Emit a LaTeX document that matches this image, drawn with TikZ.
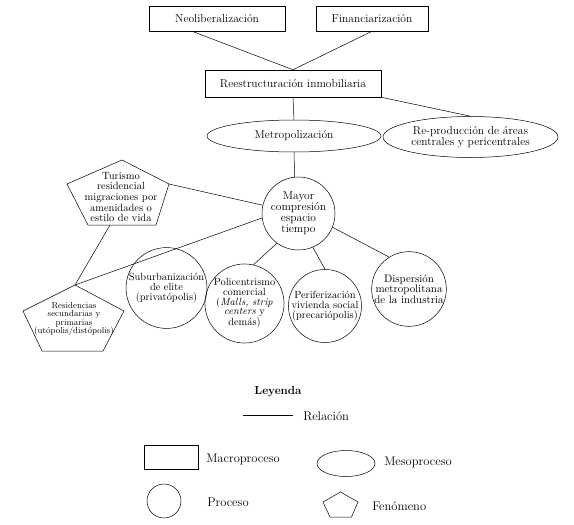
\documentclass[tikz,border=0pt]{standalone}
\usepackage{fontspec}
\usetikzlibrary{shapes.geometric}
\begin{document}
\begin{tikzpicture}[x=1pt,y=-1pt,line width=0.5pt,
  box/.style={draw,rectangle,inner sep=0pt,font=\fontsize{11.5}{12}\selectfont},
  ell/.style={draw,ellipse,inner sep=0pt,align=center,font=\fontsize{11.5}{9.5}\selectfont},
  circ/.style={draw,circle,inner sep=0pt,minimum size=#1,align=center},
  ctext/.style={font=\fontsize{10.4}{10}\selectfont},
  ptext/.style={align=center},
  legtext/.style={anchor=west,inner sep=0pt,font=\fontsize{12.5}{13}\selectfont},
  rel/.style={draw,line width=0.5pt}]
\useasboundingbox (0,0) rectangle (574,525);

% Macroprocesos
\node[box,minimum width=136pt,minimum height=25pt] (neo) at (217,18.5) {Neoliberalización};
\node[box,minimum width=112pt,minimum height=25pt] (fin) at (372,18.5) {Financiarización};
\node[box,minimum width=176pt,minimum height=27pt] (rees) at (293,83.5) {Reestructuración inmobiliaria};

% Mesoprocesos
\node[ell,minimum width=174pt,minimum height=32pt] (metro) at (294,136) {Metropolización};
\node[ell,minimum width=175pt,minimum height=41pt] (repro) at (470.5,137) {Re-producción de áreas\\centrales y pericentrales};

% Procesos
\node[circ=73pt,font=\fontsize{11.5}{11}\selectfont] (mayor) at (298.5,213.5) {Mayor\\compresión\\espacio\\tiempo};
\node[circ=71pt,ctext] (sub) at (166.5,288) {Suburbanización\\de elite\\(privatópolis)};
\node[circ=75pt,ctext,font=\fontsize{10.4}{9.7}\selectfont] (poli) at (244.5,303.5) {Policentrismo\\comercial\\(\textit{Malls, strip}\\\textit{centers} y\\demás)};
\node[circ=72pt,ctext] (peri) at (325,306) {Periferización\\vivienda social\\(precariópolis)};
\node[circ=74pt,ctext,font=\fontsize{10.9}{10.3}\selectfont] (disp) at (409,289) {Dispersión\\metropolitana\\de la industria};

% Fenomeno: Turismo
\coordinate (t1) at (122,160);
\coordinate (t2) at (169,184);
\coordinate (t3) at (156,225);
\coordinate (t4) at (88,225);
\coordinate (t5) at (67,184);
\coordinate (tb) at (110,225);
\draw (t1) -- (t2) -- (t3) -- (t4) -- (t5) -- cycle;
\node[ptext,font=\fontsize{10.5}{10.7}\selectfont] (tur) at (121,197) {Turismo\\residencial\\migraciones por\\amenidades o\\estilo de vida};

% Fenomeno: Residencias
\coordinate (r1) at (75,285);
\coordinate (r2) at (124,311);
\coordinate (r3) at (103,351);
\coordinate (r4) at (42,351);
\coordinate (r5) at (23,311);
\draw (r1) -- (r2) -- (r3) -- (r4) -- (r5) -- cycle;
\node[ptext,font=\fontsize{8.7}{8.3}\selectfont] (res) at (74,319) {Residencias\\secundarias y\\primarias\\(utópolis/distópolis)};

% Relaciones
\draw[rel] (neo.207.5) -- (rees.north);
\draw[rel] (fin.south) -- (rees.north);
\draw[rel] (rees.south) -- (metro.north);
\draw[rel] (rees.south east) -- (repro.north);
\draw[rel] (metro.south) -- (mayor.96);
\draw[rel] (t2) -- (mayor.167);
\draw[rel] (tb) -- (r1);
\draw[rel] (r1) -- (mayor.187);
\draw[rel] (mayor.234) -- (poli.77);
\draw[rel] (mayor.293) -- (peri.north);
\draw[rel] (mayor.338.6) -- (disp.122);

% Leyenda
\node[font=\bfseries\fontsize{11.6}{12}\selectfont] (ley) at (278,392) {Leyenda};
\coordinate (l1) at (243,415);
\coordinate (l2) at (293,415);
\draw[rel] (l1) -- (l2);
\node[legtext] (lrel) at (303,416) {Relación};
\node[draw,rectangle,minimum width=54pt,minimum height=24pt,inner sep=0pt] (lmacro) at (171,457) {};
\node[legtext] (lmacrot) at (206,459) {Macroproceso};
\node[draw,ellipse,minimum width=58pt,minimum height=26pt,inner sep=0pt] (lmeso) at (346,463.5) {};
\node[legtext] (lmesot) at (384,462) {Mesoproceso};
\node[draw,circle,minimum size=34pt,inner sep=0pt] (lproc) at (164,501) {};
\node[legtext] (lproct) at (207,502) {Proceso};
\coordinate (f1) at (340.5,492);
\coordinate (f2) at (358,502);
\coordinate (f3) at (351.5,517);
\coordinate (f4) at (330,517);
\coordinate (f5) at (323,502);
\draw (f1) -- (f2) -- (f3) -- (f4) -- (f5) -- cycle;
\node[legtext] (lfent) at (372,506) {Fenómeno};
\end{tikzpicture}
\end{document}
